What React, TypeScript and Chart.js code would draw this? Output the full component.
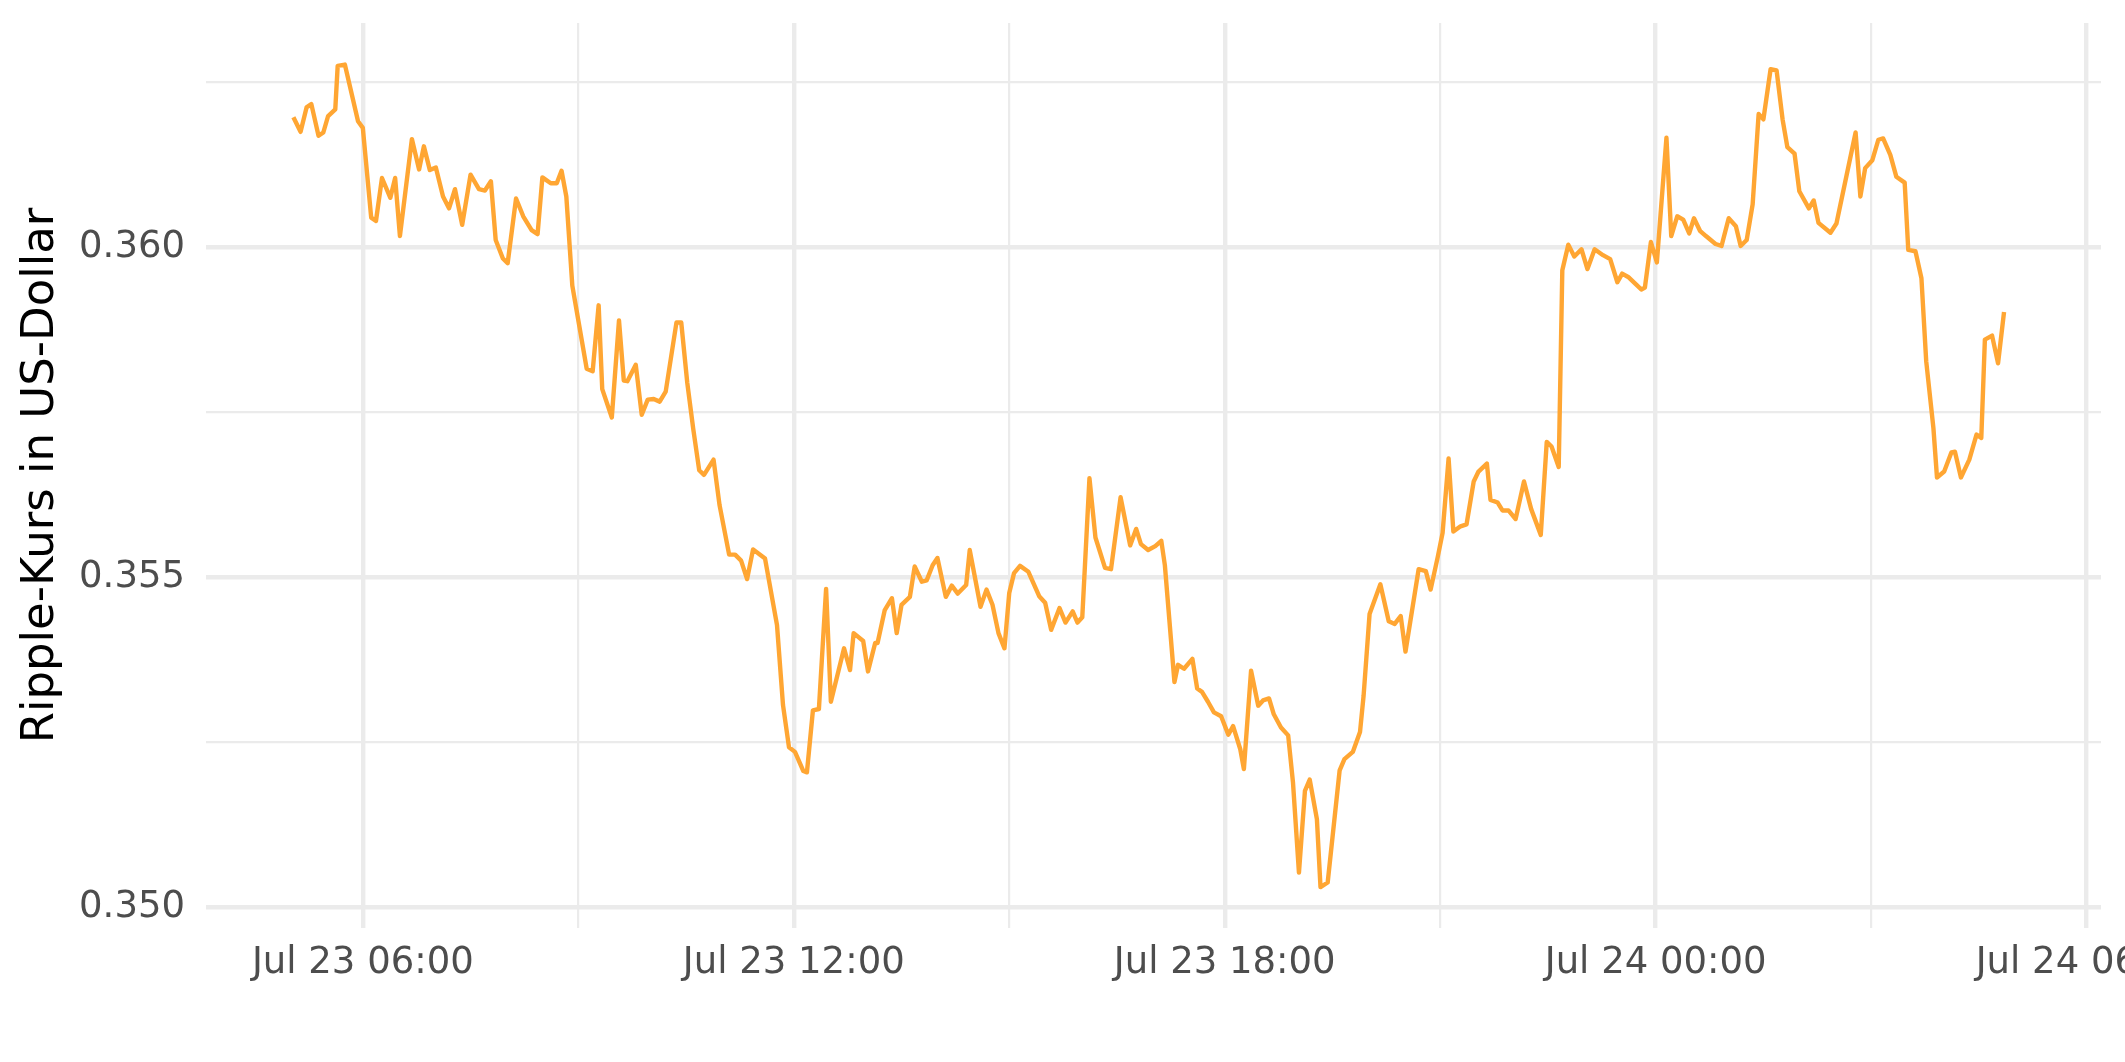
import React, { useEffect, useRef } from "react";
import { Chart, registerables } from "chart.js";

Chart.register(...registerables);

// minutes since Jul 23 00:00
const minutesSinceJul23: number[] = [
  302, 308, 313, 317, 323, 327, 331, 337, 339, 345, 356, 360, 367, 371, 376, 383, 387, 391, 401, 407,
  411, 416, 421, 427, 432, 437, 443, 450, 457, 462, 467, 471, 477, 481, 488, 494, 501, 506, 510, 517,
  522, 526, 530, 535, 547, 552, 557, 560, 568, 574, 578, 581, 588, 593, 598, 603, 608, 613, 622, 626,
  631, 636, 641, 645, 653, 658, 666, 671, 676, 681, 686, 691, 696, 706, 711, 716, 721, 728, 731, 736,
  741, 747, 751, 762, 767, 770, 778, 782, 788, 790, 796, 802, 806, 810, 817, 821, 827, 831, 836, 840,
  847, 852, 857, 864, 867, 876, 881, 886, 891, 896, 900, 904, 909, 916, 925, 930, 935, 942, 947, 953,
  957, 961, 967, 972, 980, 985, 993, 1001, 1006, 1010, 1016, 1022, 1027, 1030, 1038, 1041, 1046, 1053, 1057, 1061,
  1066, 1071, 1077, 1083, 1087, 1093, 1096, 1102, 1108, 1112, 1117, 1121, 1127, 1133, 1137, 1142, 1147, 1151, 1157, 1160,
  1166, 1176, 1180, 1187, 1193, 1196, 1201, 1210, 1217, 1222, 1227, 1231, 1242, 1248, 1252, 1258, 1262, 1267, 1271, 1277,
  1282, 1288, 1292, 1299, 1302, 1308, 1312, 1317, 1323, 1330, 1336, 1344, 1349, 1353, 1359, 1362, 1367, 1372, 1378, 1383,
  1389, 1396, 1402, 1408, 1412, 1417, 1424, 1428, 1431, 1436, 1441, 1449, 1453, 1458, 1463, 1468, 1472, 1477, 1482, 1490,
  1495, 1501, 1507, 1511, 1516, 1521, 1526, 1530, 1536, 1541, 1546, 1550, 1556, 1560, 1568, 1572, 1576, 1586, 1591, 1607,
  1611, 1615, 1621, 1626, 1630, 1636, 1641, 1648, 1651, 1657, 1662, 1666, 1672, 1675, 1681, 1687, 1690, 1695, 1702, 1708,
  1712, 1715, 1721, 1726, 1731,
];

const priceUSD: number[] = [
  0.36197, 0.36175, 0.36212, 0.36217, 0.36169, 0.36174, 0.36199, 0.36209, 0.36275, 0.36277, 0.36191, 0.36181, 0.36045, 0.3604, 0.36105, 0.36075, 0.36105, 0.36017, 0.36164, 0.36118,
  0.36153, 0.36117, 0.36121, 0.36077, 0.36059, 0.36088, 0.36034, 0.3611, 0.36088, 0.36086, 0.361, 0.36011, 0.35983, 0.35976, 0.36074, 0.36047, 0.36026, 0.3602, 0.36106, 0.36097,
  0.36097, 0.36116, 0.36077, 0.35942, 0.35816, 0.35812, 0.35912, 0.35785, 0.35742, 0.35889, 0.35798, 0.35797, 0.35822, 0.35746, 0.35769, 0.3577, 0.35766, 0.35781, 0.35886, 0.35886,
  0.35795, 0.35725, 0.35662, 0.35655, 0.35678, 0.35609, 0.35534, 0.35534, 0.35525, 0.35497, 0.35542, 0.35535, 0.35528, 0.35427, 0.35306, 0.35242, 0.35235, 0.35206, 0.35204, 0.35298,
  0.353, 0.35482, 0.35311, 0.35392, 0.35359, 0.35415, 0.35403, 0.35357, 0.354, 0.354, 0.3545, 0.35468, 0.35415, 0.35458, 0.3547, 0.35516, 0.35493, 0.35495, 0.35518, 0.35529,
  0.3547, 0.35487, 0.35475, 0.35488, 0.35541, 0.35455, 0.35481, 0.35458, 0.35415, 0.35392, 0.35476, 0.35506, 0.35517, 0.35508, 0.35471, 0.35461, 0.3542, 0.35453, 0.35431, 0.35448,
  0.35431, 0.35439, 0.3565, 0.3556, 0.35514, 0.35512, 0.35621, 0.35548, 0.35573, 0.3555, 0.35541, 0.35547, 0.35555, 0.35518, 0.35341, 0.35367, 0.35361, 0.35376, 0.35331, 0.35326,
  0.35311, 0.35295, 0.35289, 0.35261, 0.35274, 0.35239, 0.35209, 0.35358, 0.35305, 0.35313, 0.35316, 0.35292, 0.35272, 0.3526, 0.35189, 0.35052, 0.35176, 0.35193, 0.35133, 0.3503,
  0.35037, 0.35207, 0.35224, 0.35235, 0.35265, 0.3532, 0.35444, 0.35489, 0.35433, 0.35429, 0.35441, 0.35387, 0.35512, 0.35509, 0.35481, 0.35531, 0.35567, 0.3568, 0.35569, 0.35577,
  0.3558, 0.35645, 0.3566, 0.35672, 0.35617, 0.35613, 0.35601, 0.35601, 0.35588, 0.35645, 0.35603, 0.35564, 0.35705, 0.35698, 0.35667, 0.35965, 0.36004, 0.35986, 0.35997, 0.35967,
  0.35997, 0.35988, 0.35982, 0.35947, 0.3596, 0.35955, 0.35943, 0.35936, 0.35939, 0.36008, 0.35977, 0.36166, 0.36017, 0.36047, 0.36042, 0.36021, 0.36044, 0.36025, 0.36017, 0.36005,
  0.36002, 0.36044, 0.36032, 0.36002, 0.36011, 0.36065, 0.36202, 0.36194, 0.3627, 0.36268, 0.36194, 0.36152, 0.36142, 0.36085, 0.36059, 0.36071, 0.36037, 0.36022, 0.36036, 0.36174,
  0.36077, 0.3612, 0.36132, 0.36163, 0.36165, 0.3614, 0.36107, 0.36098, 0.35996, 0.35994, 0.35953, 0.35827, 0.35726, 0.35651, 0.3566, 0.35689, 0.3569, 0.35651, 0.35678, 0.35716,
  0.35711, 0.3586, 0.35866, 0.35824, 0.35902,
];

const xTickMinutes: number[] = [360, 540, 720, 900, 1080, 1260, 1440, 1620, 1800];
const xTickLabels: string[] = ["Jul 23 06:00", "", "Jul 23 12:00", "", "Jul 23 18:00", "", "Jul 24 00:00", "", "Jul 24 06:00"];
const yTickValues: number[] = [0.35, 0.3525, 0.355, 0.3575, 0.36, 0.3625];
const yTickLabels: string[] = ["0.350", "", "0.355", "", "0.360", ""];
const yAxisTitle = "Ripple-Kurs in US-Dollar";

export default function App() {
  const ref = useRef<HTMLCanvasElement>(null);

  useEffect(() => {
    if (!ref.current) return;
    const chart = new Chart(ref.current, {
      type: "line",
      data: {
        datasets: [
          {
            data: minutesSinceJul23.map((m, i) => ({ x: m, y: priceUSD[i] })),
            borderColor: "rgb(255,166,51)",
            borderWidth: 4.4,
            pointRadius: 0,
            tension: 0,
            fill: false,
            borderJoinStyle: "round",
          },
        ],
      },
      options: {
        animation: false,
        responsive: false,
        devicePixelRatio: 1,
        layout: { padding: { top: 23, right: 149, bottom: 0, left: 0 } },
        plugins: { legend: { display: false }, tooltip: { enabled: false } },
        scales: {
          x: {
            type: "linear",
            min: 229,
            max: 1812,
            afterBuildTicks: (s: any) => {
              s.ticks = xTickMinutes.map((v) => ({ value: v }));
            },
            afterFit: (s: any) => {
              s.height = 134;
              s.paddingLeft = 0;
              s.paddingRight = 0;
            },
            grid: {
              color: "#EBEBEB",
              lineWidth: (ctx: any) => (xTickLabels[ctx.index] ? 4.4 : 2.2),
              drawTicks: false,
            },
            border: { display: false },
            ticks: {
              autoSkip: false,
              maxRotation: 0,
              padding: 13,
              color: "#4D4D4D",
              font: { family: "DejaVu Sans", size: 37 },
              callback: (_v: any, i: number) => xTickLabels[i],
            },
          },
          y: {
            type: "linear",
            min: 0.34968,
            max: 0.3634,
            afterBuildTicks: (s: any) => {
              s.ticks = yTickValues.map((v) => ({ value: v }));
            },
            afterFit: (s: any) => {
              s.width = 206;
              s.paddingTop = 0;
              s.paddingBottom = 0;
            },
            grid: {
              color: "#EBEBEB",
              lineWidth: (ctx: any) => (yTickLabels[ctx.index] ? 4.4 : 2.2),
              drawTicks: false,
            },
            border: { display: false },
            title: {
              display: true,
              text: yAxisTitle,
              color: "#000000",
              font: { family: "DejaVu Sans", size: 45 },
              padding: { top: 14, bottom: 0 },
            },
            ticks: {
              autoSkip: false,
              padding: 21,
              color: "#4D4D4D",
              font: { family: "DejaVu Sans", size: 37 },
              callback: (_v: any, i: number) => yTickLabels[i],
            },
          },
        },
      },
    });
    return () => chart.destroy();
  }, []);

  return (
    <div
      style={{
        position: "fixed",
        left: 0,
        top: 0,
        width: 2125,
        height: 1062,
        overflow: "hidden",
        background: "#ffffff",
      }}
    >
      <canvas ref={ref} width={2250} height={1062} style={{ display: "block", width: 2250, height: 1062 }} />
    </div>
  );
}
